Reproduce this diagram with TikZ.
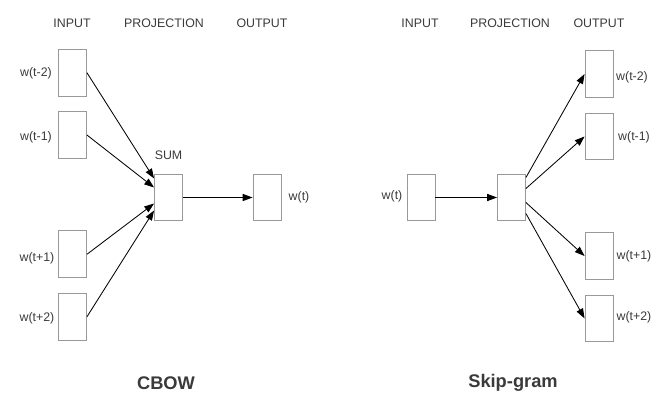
\documentclass[tikz,border=0pt]{standalone}
\usepackage{fontspec}
\setmainfont{Liberation Sans}
\usetikzlibrary{positioning,calc,arrows.meta}

\definecolor{boxgray}{HTML}{999999}
\definecolor{txtgray}{HTML}{3A3A3A}

\begin{document}
\begin{tikzpicture}[x=0.025cm,y=-0.025cm,
        wbox/.style={draw=boxgray,line width=0.6pt,minimum width=0.7cm,minimum height=1.17cm,inner sep=0pt},
        wlabel/.style={text=txtgray,font=\fontsize{8.8}{10}\selectfont,inner sep=0pt},
        head/.style={text=txtgray,font=\fontsize{8.8}{10}\selectfont,inner sep=0pt},
        model/.style={text=txtgray,font=\bfseries\fontsize{13}{15}\selectfont,inner sep=0pt},
        link/.style={draw=black,line width=0.6pt,-{Triangle[length=7pt,width=5pt]}}]
        \useasboundingbox (0,0) rectangle (657,409);

        % CBOW
        \node[head] (hin1) at (72,23) {INPUT};
        \node[head] (hpr1) at (164,23) {PROJECTION};
        \node[head] (hout1) at (262,23) {OUTPUT};

        \node[wbox] (c1) at (72.5,72.7) {};
        \node[wbox] (c2) at (72.5,135) {};
        \node[wbox] (c3) at (72.5,254.3) {};
        \node[wbox] (c4) at (72.5,316.8) {};
        \node[wlabel] (lc1) at (36,73) {w(t-2)};
        \node[wlabel] (lc2) at (36,137) {w(t-1)};
        \node[wlabel] (lc3) at (37,258) {w(t+1)};
        \node[wlabel] (lc4) at (37,318) {w(t+2)};

        \node[wbox] (sum) at (168.5,197.5) {};
        \node[wlabel] (lsum) at (168.5,155) {SUM};
        \node[wbox] (cout) at (267,197.5) {};
        \node[wlabel,right=5pt of cout.east,anchor=west] (lcout) {w(t)};

        \draw[link] (c1.east) -- ($(sum.west)+(0,-19)$);
        \draw[link] (c2.east) -- ($(sum.west)+(0,-10)$);
        \draw[link] (c3.east) -- ($(sum.west)+(0,6)$);
        \draw[link] (c4.east) -- ($(sum.west)+(0,13)$);
        \draw[link] (sum.east) -- (cout.west);

        \node[model] (cbow) at (166,383) {CBOW};

        % Skip-gram
        \node[head] (hin2) at (420,23) {INPUT};
        \node[head] (hpr2) at (510,23) {PROJECTION};
        \node[head] (hout2) at (599,23) {OUTPUT};

        \node[wbox] (sin) at (421,197.5) {};
        \node[wlabel] (lsin) at (392,196) {w(t)};
        \node[wbox] (proj) at (511.5,197.5) {};

        \node[wbox] (s1) at (599,74) {};
        \node[wbox] (s2) at (599,136.5) {};
        \node[wbox] (s3) at (599,256) {};
        \node[wbox] (s4) at (599,318.4) {};
        \node[wlabel] (ls1) at (632,77) {w(t-2)};
        \node[wlabel] (ls2) at (634,137) {w(t-1)};
        \node[wlabel] (ls3) at (634,256) {w(t+1)};
        \node[wlabel] (ls4) at (634,317) {w(t+2)};

        \draw[link] (sin.east) -- (proj.west);
        \draw[link] ($(proj.east)+(0,-20)$) -- (s1.west);
        \draw[link] ($(proj.east)+(0,-9)$) -- (s2.west);
        \draw[link] ($(proj.east)+(0,5)$) -- (s3.west);
        \draw[link] ($(proj.east)+(0,16)$) -- (s4.west);

        \node[model] (skip) at (513,383) {Skip-gram};
    \end{tikzpicture}
\end{document}
